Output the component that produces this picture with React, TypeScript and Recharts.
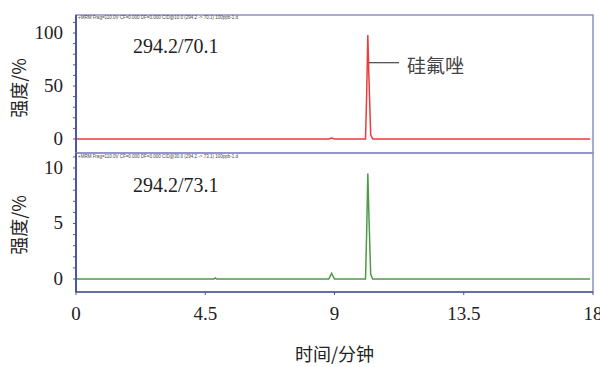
import React from 'react';
import { LineChart, Line, XAxis, YAxis, ReferenceArea, ReferenceLine } from 'recharts';

// retention time (min) and intensities for the two MRM channels
const times = [0, 4.8, 4.85, 4.9, 8.8, 8.9, 9.0, 10.08, 10.12, 10.16, 10.2, 10.26, 10.33, 17.9];
const ch70 = [0, 0, 0, 0, 0, 1, 0, 0, 42, 98, 57, 4, 0, 0];
const ch73 = [0, 0, 0.1, 0, 0, 0.5, 0, 0, 4.2, 9.5, 5.6, 0.4, 0, 0];

const xTicks = [0, 4.5, 9, 13.5, 18];
const topTicks = [0, 10, 20, 30, 40, 50, 60, 70, 80, 90, 100, 110];
const topLabels = [0, 50, 100];
const botTicks = [0, 1, 2, 3, 4, 5, 6, 7, 8, 9, 10, 11];
const botLabels = [0, 5, 10];

const topDomain: [number, number] = [-13.2, 117];
const botDomain: [number, number] = [-1.17, 11.35];

const topData = times.map((t, i) => ({ t, v: ch70[i] }));
const botData = times.map((t, i) => ({ t, v: ch73[i] }));

const serif = '"Liberation Serif", "Times New Roman", serif';
const cjk = '"Noto Sans CJK SC", sans-serif';
const frameColor = '#8a90c8';
const axisColor = '#4d579e';

const tickStyle = { fontSize: 19, fill: '#222', fontFamily: serif };

// only the major ticks carry a number, the rest are bare tick marks
const yTick = (labels: number[]) => (props: any) => {
  const { x, y, payload } = props;
  if (!labels.includes(payload.value)) return <g />;
  return (
    <text x={x - 2} y={y} dy={6} textAnchor="end" {...tickStyle}>
      {payload.value}
    </text>
  );
};

const Header = ({ text, top }: { text: string; top: number }) => (
  <div style={{ position: 'absolute', left: 78, top, fontSize: 4.5, color: '#444', fontFamily: 'Arial', whiteSpace: 'nowrap' }}>
    {text}
  </div>
);

const YTitle = ({ cy }: { cy: number }) => (
  <div
    style={{
      position: 'absolute', left: 18, top: cy, transform: 'translate(-50%, -50%) rotate(-90deg)',
      fontFamily: cjk, fontSize: 18, color: '#222', whiteSpace: 'nowrap',
    }}
  >
    强度/%
  </div>
);

export default function App() {
  return (
    <div style={{ position: 'absolute', left: 0, top: 0, width: 600, height: 367, background: '#fff', overflow: 'hidden' }}>
      <div style={{ position: 'absolute', left: 0, top: 0 }}>
        <LineChart width={600} height={155} data={topData} margin={{ top: 15, right: 7, bottom: 2, left: 0 }}>
          <XAxis type="number" dataKey="t" domain={[0, 18]} ticks={xTicks} hide allowDataOverflow />
          <YAxis
            width={76} domain={topDomain} ticks={topTicks} allowDataOverflow interval={0}
            tick={yTick(topLabels)} tickSize={3} tickMargin={8}
            axisLine={{ stroke: axisColor, strokeWidth: 2 }} tickLine={{ stroke: axisColor }}
          />
          <ReferenceArea x1={0} x2={18} y1={topDomain[0]} y2={topDomain[1]} fill="none" stroke={frameColor} strokeWidth={1.5} ifOverflow="visible" />
          <Line type="linear" dataKey="v" stroke="#ee3b3b" strokeWidth={1.5} dot={false} isAnimationActive={false} />
          <ReferenceLine
            segment={[{ x: 10.2, y: 72 }, { x: 11.25, y: 72 }]}
            stroke="#444" strokeWidth={1.2}
          />
        </LineChart>
      </div>
      <div style={{ position: 'absolute', left: 0, top: 0 }}>
        <LineChart width={600} height={367} data={botData} margin={{ top: 153, right: 7, bottom: 0, left: 0 }}>
          <XAxis
            type="number" dataKey="t" domain={[0, 18]} ticks={xTicks} allowDataOverflow interval={0}
            height={75} tick={tickStyle} tickSize={3} tickMargin={12}
            axisLine={{ stroke: axisColor, strokeWidth: 1.5 }} tickLine={{ stroke: '#555' }}
            label={{ value: '时间/分钟', position: 'insideBottom', offset: 6, style: { fontFamily: cjk, fontSize: 18, fill: '#222' } }}
          />
          <YAxis
            width={76} domain={botDomain} ticks={botTicks} allowDataOverflow interval={0}
            tick={yTick(botLabels)} tickSize={3} tickMargin={8}
            axisLine={{ stroke: axisColor, strokeWidth: 2 }} tickLine={{ stroke: axisColor }}
          />
          <ReferenceArea x1={0} x2={18} y1={botDomain[0]} y2={botDomain[1]} fill="none" stroke={frameColor} strokeWidth={1.5} ifOverflow="visible" />
          <Line type="linear" dataKey="v" stroke="#4e9a45" strokeWidth={1.5} dot={false} isAnimationActive={false} />
        </LineChart>
      </div>
      <Header top={15} text="+MRM Frag=110.0V CF=0.000 DF=0.000 CID@10.0 (294.2 -> 70.1) 100ppb-1.d" />
      <Header top={154} text="+MRM Frag=110.0V CF=0.000 DF=0.000 CID@30.0 (294.2 -> 73.1) 100ppb-1.d" />
      <div style={{ position: 'absolute', left: 133, top: 35, fontFamily: serif, fontSize: 20, color: '#222' }}>294.2/70.1</div>
      <div style={{ position: 'absolute', left: 133, top: 174, fontFamily: serif, fontSize: 20, color: '#222' }}>294.2/73.1</div>
      <div style={{ position: 'absolute', left: 407, top: 51, fontFamily: cjk, fontSize: 19, color: '#444' }}>硅氟唑</div>
      <YTitle cy={88} />
      <YTitle cy={225} />
    </div>
  );
}
